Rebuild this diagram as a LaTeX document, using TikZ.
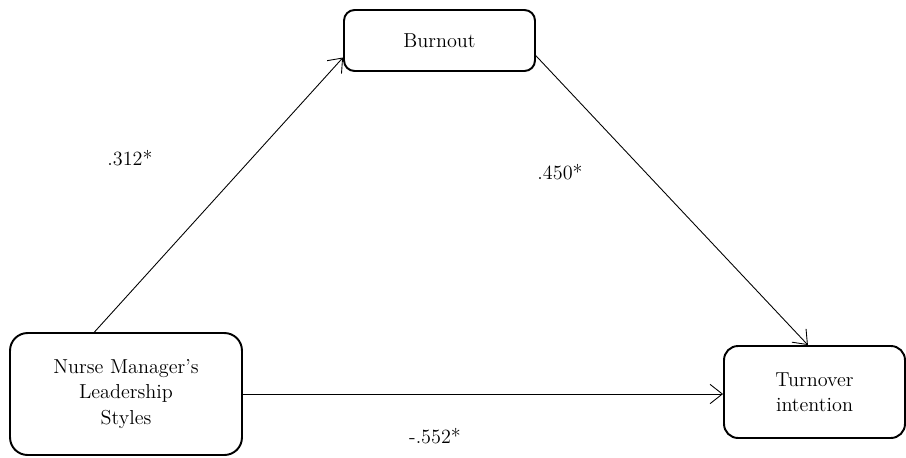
\documentclass[tikz,border=0pt]{standalone}
\usepackage{tikz}
\usetikzlibrary{positioning}
\usetikzlibrary{arrows.meta}

\begin{document}
\begin{tikzpicture}[x=0.02cm,y=-0.02cm,
    every node/.style={font=\fontsize{11.5}{14.5}\selectfont},
    var/.style={draw,line width=1.1pt,rounded corners=#1,align=center,inner sep=0pt},
    path/.style={line width=0.5pt,-{Straight Barb[length=7pt,width=11pt]}}]
    \useasboundingbox (0,0) rectangle (906,457);

    \node(burn) [var=6pt,minimum width=3.82cm,minimum height=1.22cm] at (439.5,40.5) {Burnout};
    \node(lead) [var=10pt,minimum width=4.64cm,minimum height=2.44cm] at (126,394) {Nurse Manager's\\Leadership\\Styles};
    \node(turn) [var=8pt,minimum width=3.62cm,minimum height=1.84cm] at (814.5,392) {Turnover\\intention};

    \draw[path](lead.117) -- (burn.190);
    \draw[path](burn.-9) -- (turn.98);
    \draw[path](lead.east) -- (lead.east -| turn.west);

    \node(a) at (130,158) {.312*};
    \node(b) at (560,172) {.450*};
    \node(c) at (435,436) {-.552*};
\end{tikzpicture}
\end{document}
